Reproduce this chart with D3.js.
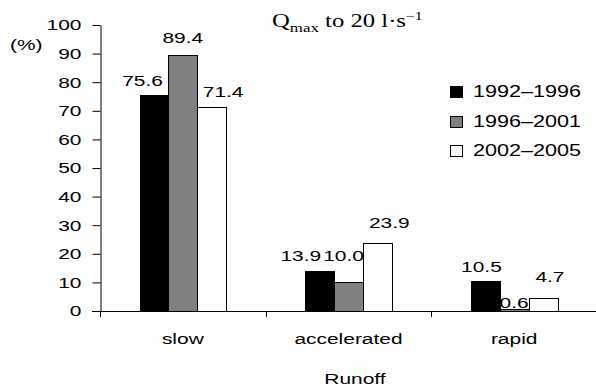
<!DOCTYPE html>
<html>
<head>
<meta charset="utf-8">
<script src="https://cdn.jsdelivr.net/npm/d3@7"></script>
<style>
  body { margin: 0; background: #fff; }
  svg { display: block; font-family: 'Liberation Sans', Arial, sans-serif; }
</style>
</head>
<body>
<div id="chart"></div>
<script>
(function() {

  var categories = ['slow', 'accelerated', 'rapid'];
  var seriesNames = ['1992–1996', '1996–2001', '2002–2005'];
  var values9296 = [75.6, 13.9, 10.5];
  var values9601 = [89.4, 10.0, 0.6];
  var values0205 = [71.4, 23.9, 4.7];
  var yTicks = [0, 10, 20, 30, 40, 50, 60, 70, 80, 90, 100];

  // hand placed data labels in the source, [dx, dy] from bar centre / bar top
  var labelNudge = [
    [[-11.5, -9], [-19, -10], [-4, -9]],
    [[0, -12], [-5, -21], [0, -1]],
    [[11.5, -10], [12, -15], [7, -16]]
  ];

  var width = 596, height = 392;
  var SX = 1.35; // the source picture is stretched sideways
  var fills = ['#000000', '#808080', '#ffffff'];
  var seriesValues = [values9296, values9601, values0205];

  var svg = d3.select('#chart')
              .append('svg')
              .attr('width', width)
              .attr('height', height);

  var x0 = d3.scaleBand()
    .domain(categories)
    .range([100, 597]);

  var x1 = d3.scaleBand()
    .domain(seriesNames)
    .range([0, x0.bandwidth()])
    .paddingInner(0)
    .paddingOuter(1.38);

  var y = d3.scaleLinear()
    .domain([0, 100])
    .range([311, 25]);

  function label(parent, x, yy, str, anchor, size) {
    return parent.append('text')
      .attr('transform', 'translate(' + x + ',' + yy + ') scale(' + SX + ',1)')
      .attr('text-anchor', anchor)
      .style('font-size', size + 'px')
      .attr('fill', '#000')
      .text(str);
  }

  // bars
  var bars = svg.append('g');
  seriesValues.forEach(function(vals, si) {
    bars.selectAll('rect.s' + si)
      .data(vals)
      .enter()
      .append('rect')
      .attr('class', 's' + si)
      .attr('x', function(d, i) { return Math.round(x0(categories[i]) + x1(seriesNames[si])) + 0.5; })
      .attr('y', function(d) { return Math.round(y(d)) + 0.5; })
      .attr('width', Math.round(x1.bandwidth()))
      .attr('height', function(d) { return Math.max(0, Math.round(y(0)) - Math.round(y(d))); })
      .attr('fill', fills[si])
      .attr('stroke', '#000')
      .attr('stroke-width', 1);
  });

  // y axis
  var yAxis = svg.append('g')
    .attr('transform', 'translate(100.5,0)')
    .call(d3.axisLeft(y).tickValues(yTicks).tickSize(8).tickSizeOuter(0).tickPadding(11));
  yAxis.select('.domain').attr('stroke', '#000');
  yAxis.selectAll('.tick line').attr('stroke', '#000');
  yAxis.selectAll('.tick text')
    .attr('x', null)
    .attr('transform', 'translate(-19,0) scale(' + SX + ',1)')
    .attr('fill', '#000')
    .style('font-size', '15.5px')
    .style('font-family', "'Liberation Sans', Arial, sans-serif");

  // x axis line and category ticks
  var xAxis = svg.append('g');
  xAxis.append('line')
    .attr('x1', 92).attr('x2', width)
    .attr('y1', y(0) + 0.5).attr('y2', y(0) + 0.5)
    .attr('stroke', '#000');
  xAxis.selectAll('line.tk')
    .data(categories)
    .enter()
    .append('line')
    .attr('class', 'tk')
    .attr('x1', function(d) { return Math.round(x0(d)) + 0.5; })
    .attr('x2', function(d) { return Math.round(x0(d)) + 0.5; })
    .attr('y1', y(0))
    .attr('y2', y(0) + 6)
    .attr('stroke', '#000');
  categories.forEach(function(c) {
    label(xAxis, x0(c) + x0.bandwidth() / 2, 344, c, 'middle', 15.5);
  });

  // value labels
  var labels = svg.append('g');
  seriesValues.forEach(function(vals, si) {
    vals.forEach(function(v, i) {
      var cx = x0(categories[i]) + x1(seriesNames[si]) + x1.bandwidth() / 2;
      label(labels, cx + labelNudge[si][i][0], y(v) + labelNudge[si][i][1],
            v.toFixed(1), 'middle', 15.5);
    });
  });

  // axis titles
  label(svg, 10, 50, '(%)', 'start', 15.5);
  label(svg, 355, 384, 'Runoff', 'middle', 15.5);

  // chart title
  var title = svg.append('text')
    .attr('transform', 'translate(272,27) scale(1.3,1)')
    .style('font-family', "'Liberation Serif', 'DejaVu Serif', serif")
    .style('font-size', '19px')
    .attr('fill', '#000');
  title.append('tspan').text('Q');
  title.append('tspan').attr('dy', 5).style('font-size', '13px').text('max');
  title.append('tspan').attr('dy', -5).text(' to 20 l·s');
  title.append('tspan').attr('dy', -7).style('font-size', '12px').text('−1');

  // legend
  var legend = svg.append('g');
  seriesNames.forEach(function(s, i) {
    var by = 97 + i * 29.5;
    legend.append('rect')
      .attr('x', 450.5).attr('y', Math.round(by - 11) + 0.5)
      .attr('width', 12).attr('height', 11)
      .attr('fill', fills[i])
      .attr('stroke', '#000');
    label(legend, 473, by, s, 'start', 16);
  });

})();
</script>
</body>
</html>
